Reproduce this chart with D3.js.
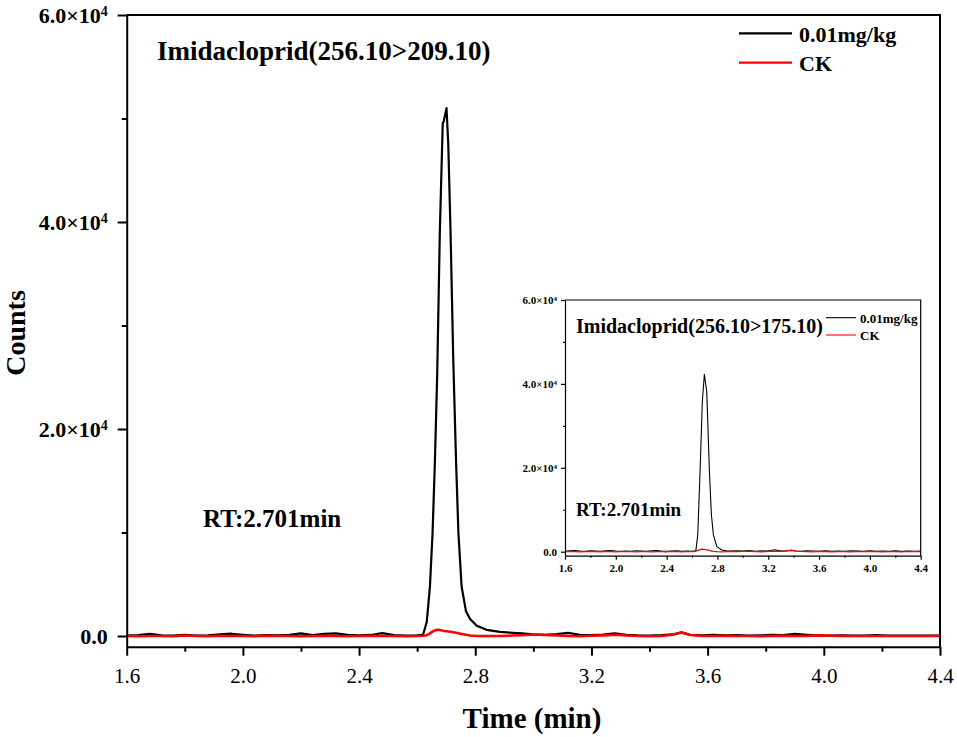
<html>
<head>
<meta charset="utf-8">
<script src="https://d3js.org/d3.v7.min.js"></script>
<style>
  body { margin: 0; background: #fff; }
  text { font-family: "Liberation Serif", "Times New Roman", serif; fill: #000; }
</style>
</head>
<body>
<svg id="chart" width="957" height="737"></svg>
<script>
// ---- data ----
const mainTimes = [1.60,1.64,1.68,1.72,1.76,1.80,1.84,1.88,1.92,1.96,2.00,2.04,2.08,2.12,2.16,2.20,2.24,2.28,2.32,2.36,2.40,2.44,2.48,2.52,2.56,2.60,
  2.62,2.633,2.644,2.653,2.661,2.669,2.678,2.688,2.692,2.701,2.707,2.715,2.724,2.734,2.742,2.753,2.768,2.782,2.805,2.839,2.885,2.93,2.96,
  3.00,3.04,3.08,3.12,3.16,3.20,3.24,3.28,3.32,3.36,3.40,3.44,3.48,3.51,3.54,3.58,3.62,3.66,3.70,3.74,3.78,3.82,3.86,3.90,3.94,3.98,
  4.02,4.06,4.10,4.14,4.18,4.22,4.26,4.30,4.34,4.40];
const mainSample = [50,80,200,60,30,100,40,60,150,220,120,40,80,60,120,250,80,200,260,120,60,100,280,80,40,60,
  100,1350,4780,9950,16800,25300,39000,49500,49800,51000,47600,39000,27000,16800,9950,4780,2400,1650,1000,600,400,300,250,
  150,120,180,300,120,80,140,250,100,60,50,80,150,350,120,60,100,60,80,40,60,100,80,200,120,60,
  40,60,30,50,80,40,50,30,40,30];
const mainCK = [0,-20,10,0,-30,40,0,-20,30,10,-10,-30,20,0,10,-20,0,30,10,-20,0,20,-10,0,-20,0,
  20,80,250,420,540,600,580,520,490,460,440,400,360,320,270,200,110,40,0,-10,0,40,80,
  150,100,40,0,-20,20,60,120,40,0,-20,0,120,330,100,0,-10,20,0,10,-20,0,20,-10,0,60,
  30,0,-10,0,10,-10,0,10,0,0];

const insetTimes = [1.60,1.64,1.68,1.72,1.76,1.80,1.84,1.88,1.92,1.96,2.00,2.04,2.08,2.12,2.16,2.20,2.24,2.28,2.32,2.36,2.40,2.44,2.48,2.52,2.56,2.60,
  2.63,2.645,2.663,2.681,2.697,2.716,2.737,2.752,2.768,2.795,2.834,2.87,2.90,2.95,
  3.00,3.05,3.10,3.15,3.20,3.25,3.30,3.34,3.38,3.42,3.46,3.50,3.55,3.60,3.65,3.70,3.75,3.80,3.85,3.90,3.95,
  4.00,4.05,4.10,4.15,4.20,4.25,4.30,4.35,4.40];
const insetSample = [100,200,300,150,100,200,150,100,200,250,150,100,150,100,200,150,100,200,250,150,100,150,200,100,150,100,
  200,4000,19000,35800,42300,38100,19000,9000,4000,1200,400,200,150,200,
  150,250,100,200,150,450,150,200,300,150,100,200,150,100,200,100,150,100,200,150,100,
  200,100,150,100,200,100,150,100,150];
const insetCK = [0,50,0,-30,0,60,0,-20,50,0,-40,0,30,0,-20,40,0,-30,20,0,-20,50,0,-30,0,20,
  100,300,500,600,550,450,300,150,60,0,-20,0,50,0,
  100,60,0,-30,50,80,100,200,400,150,50,0,-30,60,0,-20,40,0,-30,60,0,
  80,0,-40,30,0,-30,50,0,0];

const xTicks = [1.6,2.0,2.4,2.8,3.2,3.6,4.0,4.4];
const xMinor = [1.8,2.2,2.6,3.0,3.4,3.8,4.2];
const yTicks = [0,20000,40000,60000];
const yMinor = [10000,30000,50000];

const seriesNames = ["0.01mg/kg","CK"];
const seriesColors = ["#000000","#ff0000"];

const svg = d3.select("#chart");

function sciLabels(g, supSize) {
  g.selectAll(".tick text").each(function(d) {
    const t = d3.select(this);
    t.text(null);
    if (d === 0) { t.text("0.0"); return; }
    const exp = Math.floor(Math.log10(d));
    const m = d / Math.pow(10, exp);
    t.append("tspan").text(m.toFixed(1) + "\u00d710");
    t.append("tspan").attr("dy", "-0.5em").attr("font-size", supSize).text(exp);
  });
}

function panel(opt) {
  const x = d3.scaleLinear().domain([1.6, 4.4]).range([opt.left, opt.right]);
  const y = d3.scaleLinear().domain([opt.ymin, 60000]).range([opt.bottom, opt.top]);
  const g = svg.append("g");

  if (opt.bg) g.append("rect").attr("x", opt.left).attr("y", opt.top)
    .attr("width", opt.right - opt.left).attr("height", opt.bottom - opt.top).attr("fill", "#fff");

  const line = d3.line().x((d, i) => x(opt.times[i])).y(d => y(d));
  g.append("path").datum(opt.sample).attr("fill", "none")
    .attr("stroke", seriesColors[0]).attr("stroke-width", opt.lw).attr("stroke-linejoin", "round").attr("d", line);
  g.append("path").datum(opt.ck).attr("fill", "none")
    .attr("stroke", seriesColors[1]).attr("stroke-width", opt.lw * 1.15).attr("stroke-linejoin", "round").attr("d", line);

  // frame (top / right)
  g.append("path").attr("fill", "none").attr("stroke", "#000").attr("stroke-width", opt.frame)
    .attr("d", `M${opt.left},${opt.top}H${opt.right}V${opt.bottom}`);

  // x axis
  const xa = g.append("g").attr("transform", `translate(0,${opt.bottom})`)
    .call(d3.axisBottom(x).tickValues(xTicks).tickFormat(d3.format(".1f"))
      .tickSize(opt.major).tickSizeOuter(0).tickPadding(opt.xpad));
  g.append("g").attr("transform", `translate(0,${opt.bottom})`)
    .call(d3.axisBottom(x).tickValues(xMinor).tickFormat("").tickSize(opt.minor).tickSizeOuter(0))
    .select(".domain").remove();
  xa.selectAll("text").attr("font-size", opt.xfs).attr("font-weight", opt.xfw)
    .attr("font-family", '"Liberation Serif", "Times New Roman", serif').attr("fill", "#000");

  // y axis
  const ya = g.append("g").attr("transform", `translate(${opt.left},0)`)
    .call(d3.axisLeft(y).tickValues(yTicks).tickSize(opt.major).tickSizeOuter(0).tickPadding(opt.ypad));
  g.append("g").attr("transform", `translate(${opt.left},0)`)
    .call(d3.axisLeft(y).tickValues(yMinor).tickFormat("").tickSize(opt.minor).tickSizeOuter(0))
    .select(".domain").remove();
  ya.selectAll("text").attr("font-size", opt.yfs).attr("font-weight", "bold").attr("dy", "0.36em")
    .attr("font-family", '"Liberation Serif", "Times New Roman", serif').attr("fill", "#000");
  sciLabels(ya, opt.supfs);

  g.selectAll(".domain, .tick line").attr("stroke", "#000").attr("stroke-width", opt.frame);

  // title + RT
  g.append("text").attr("x", opt.titleX).attr("y", opt.titleY).attr("font-size", opt.titleFs)
    .attr("font-weight", "bold").text(opt.title);
  g.append("text").attr("x", opt.rtX).attr("y", opt.rtY).attr("font-size", opt.rtFs)
    .attr("font-weight", "bold").text("RT:2.701min");

  // legend
  seriesNames.forEach((n, i) => {
    const ly = opt.legY[i];
    g.append("line").attr("x1", opt.legX1).attr("x2", opt.legX2).attr("y1", ly).attr("y2", ly)
      .attr("stroke", seriesColors[i]).attr("stroke-width", opt.lw);
    g.append("text").attr("x", opt.legTX).attr("y", ly + opt.legDy).attr("font-size", opt.legFs)
      .attr("font-weight", "bold").text(n);
  });
  return g;
}

// main chart
panel({
  left: 126.7, right: 940, top: 15, bottom: 646.7, ymin: -1034,
  times: mainTimes, sample: mainSample, ck: mainCK, lw: 2.2, frame: 2,
  major: 9, minor: 5, xpad: 12, ypad: 10, xfs: 21, xfw: "normal", yfs: 22, supfs: 14,
  title: "Imidacloprid(256.10>209.10)", titleX: 157, titleY: 59.5, titleFs: 27,
  rtX: 203, rtY: 527, rtFs: 25,
  legX1: 739, legX2: 792, legY: [33.3, 62.7], legTX: 799, legDy: 8.5, legFs: 22
});

// inset
panel({
  left: 565, right: 920.7, top: 300, bottom: 555.7, ymin: -954, bg: true,
  times: insetTimes, sample: insetSample, ck: insetCK, lw: 1.1, frame: 1.2,
  major: 4, minor: 2, xpad: 5, ypad: 4, xfs: 11, xfw: "bold", yfs: 11, supfs: 7,
  title: "Imidacloprid(256.10>175.10)", titleX: 576, titleY: 333.3, titleFs: 20,
  rtX: 576, rtY: 515.7, rtFs: 19,
  legX1: 826, legX2: 856, legY: [317.7, 335], legTX: 860, legDy: 5, legFs: 13
});

// axis titles
svg.append("text").attr("x", 532).attr("y", 728).attr("text-anchor", "middle")
  .attr("font-size", 29).attr("font-weight", "bold").text("Time (min)");
svg.append("text").attr("transform", "translate(25,333) rotate(-90)").attr("text-anchor", "middle")
  .attr("font-size", 28).attr("font-weight", "bold").text("Counts");
</script>
</body>
</html>
